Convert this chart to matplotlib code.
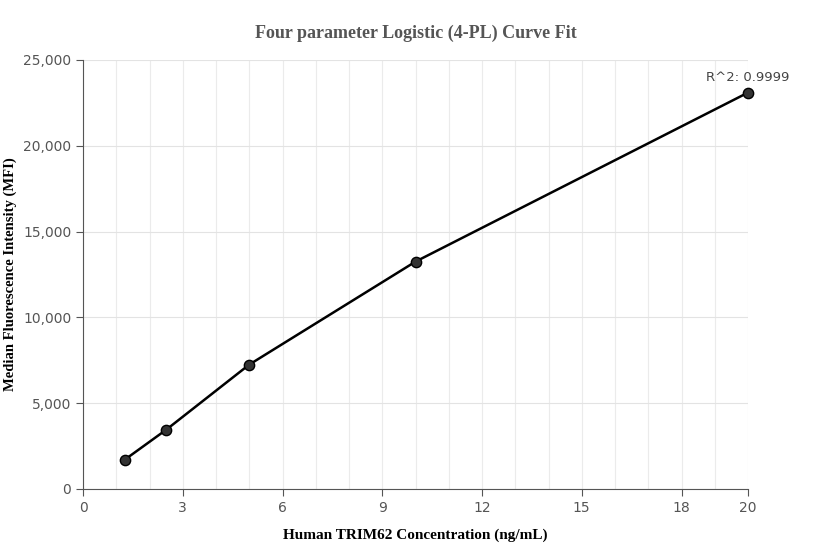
import matplotlib
matplotlib.use("Agg")
import matplotlib.pyplot as plt
from matplotlib.ticker import FuncFormatter, MultipleLocator

conc = [1.25, 2.5, 5, 10, 20]
mfi = [1700, 3450, 7250, 13250, 23100]
x_ticks = [0, 3, 6, 9, 12, 15, 18, 20]
y_ticks = [0, 5000, 10000, 15000, 20000, 25000]

fig = plt.figure(figsize=(8.32, 5.6), dpi=100)
ax = fig.add_axes([83 / 832, 1 - 489 / 560, (748 - 83) / 832, (489 - 60) / 560])

ax.plot(conc, mfi, color="black", linewidth=1.8, zorder=3)
ax.scatter(conc, mfi, s=55, color="#333333", edgecolors="black", zorder=4,
           clip_on=False)

ax.set_xlim(0, 20)
ax.set_ylim(0, 25000)
ax.set_xticks(x_ticks)
ax.set_yticks(y_ticks)
ax.xaxis.set_minor_locator(MultipleLocator(1))
ax.yaxis.set_major_formatter(FuncFormatter(lambda v, p: f"{int(v):,}"))
ax.grid(True, which="both", axis="x", color="#ebebeb", linewidth=0.8)
ax.grid(True, which="major", axis="y", color="#e3e3e3", linewidth=0.8)
ax.set_axisbelow(True)

for side in ["top", "right"]:
    ax.spines[side].set_visible(False)
for side in ["left", "bottom"]:
    ax.spines[side].set_color("#555555")
ax.tick_params(axis="both", which="major", colors="#555555", labelsize=10, length=5)
ax.tick_params(axis="both", which="minor", length=0)

ax.annotate("R^2: 0.9999", xy=(conc[-1], mfi[-1]), xytext=(0, 6),
            textcoords="offset points", ha="center", va="bottom",
            fontsize=9.5, color="#444444")

serif = "Liberation Serif"
fig.text(0.5, 1 - 33 / 560, "Four parameter Logistic (4-PL) Curve Fit", ha="center",
         va="center", fontsize=13, fontweight="bold", color="#555555", family=serif)
ax.set_xlabel("Human TRIM62 Concentration (ng/mL)", fontsize=11, fontweight="bold",
              family=serif, labelpad=10)
fig.text(10 / 832, 1 - 274 / 560, "Median Fluorescence Intensity (MFI)", rotation=90,
         ha="center", va="center", fontsize=10.5, fontweight="bold", family=serif)

fig.savefig("out.png", dpi=100)
